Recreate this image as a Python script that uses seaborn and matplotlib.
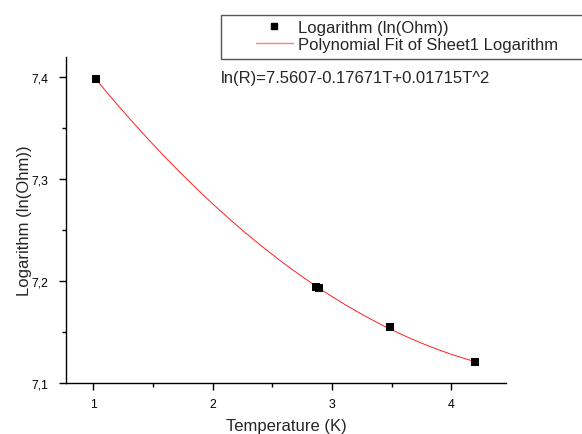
import numpy as np
import pandas as pd
import matplotlib
matplotlib.use("Agg")
import matplotlib.pyplot as plt
from matplotlib.ticker import FuncFormatter, MultipleLocator
from matplotlib.lines import Line2D
from matplotlib.patches import Rectangle
import seaborn as sns

# Data
temperature = [1.02, 2.865, 2.895, 3.485, 4.20]
log_ohm = [7.398, 7.194, 7.193, 7.155, 7.121]
fit_coeffs = [7.5607, -0.17671, 0.01715]  # c0 + c1*T + c2*T^2
equation_text = "ln(R)=7.5607-0.17671T+0.01715T^2"
legend_labels = ["Logarithm (ln(Ohm))", "Polynomial Fit of Sheet1 Logarithm"]
x_label = "Temperature (K)"
y_label = "Logarithm (ln(Ohm))"

W, H = 582, 435
sns.set_theme(style="ticks")
plt.rcParams['font.family'] = ['Liberation Sans', 'DejaVu Sans']

fig = plt.figure(figsize=(W/100, H/100), dpi=100)
ax = fig.add_axes([66/W, 1-384/H, (506-66)/W, (384-58)/H])

fit_color = "#ff2020"
df = pd.DataFrame({"T": temperature, "lnR": log_ohm})
t_fit = np.linspace(min(temperature), max(temperature), 200)
y_fit = fit_coeffs[0] + fit_coeffs[1]*t_fit + fit_coeffs[2]*t_fit**2
fit_df = pd.DataFrame({"T": t_fit, "lnR": y_fit})

sns.lineplot(data=fit_df, x="T", y="lnR", ax=ax, color=fit_color, lw=0.7, zorder=2)
sns.scatterplot(data=df, x="T", y="lnR", ax=ax, marker="s", s=26, color="black",
                edgecolor="black", linewidth=0, zorder=3)

ax.set_xlim(0.77, 4.46)
ax.set_ylim(7.1, 7.42)
ax.xaxis.set_major_locator(MultipleLocator(1))
ax.xaxis.set_minor_locator(MultipleLocator(0.5))
ax.yaxis.set_major_locator(MultipleLocator(0.1))
ax.yaxis.set_minor_locator(MultipleLocator(0.05))
ax.yaxis.set_major_formatter(FuncFormatter(lambda v, p: f"{v:.1f}".replace(".", ",")))
ax.xaxis.set_major_formatter(FuncFormatter(lambda v, p: f"{v:.0f}"))

for s in ["top", "right"]:
    ax.spines[s].set_visible(False)
for s in ["left", "bottom"]:
    ax.spines[s].set_color("black")
    ax.spines[s].set_linewidth(1.0)
ax.tick_params(which="major", direction="out", length=5, width=1, colors="black",
               labelsize=8.8)
ax.tick_params(axis="x", which="major", pad=6)
ax.tick_params(axis="y", which="major", pad=7.5)
ax.tick_params(which="minor", direction="out", length=3, width=1, colors="black")

ax.set_xlabel(x_label, fontsize=12)
ax.set_ylabel(y_label, fontsize=12)
ax.xaxis.set_label_coords(0.5, (384-431)/(384-58))
ax.xaxis.label.set_va("baseline")
ax.yaxis.set_label_coords((29-66)/(506-66), 0.5)
ax.yaxis.label.set_va("baseline")

# legend frame (extends past right edge)
fig.patches.append(Rectangle((221/W, 1-59.5/H), (W+10-221)/W, (59.5-16)/H,
                             transform=fig.transFigure, fill=False,
                             edgecolor="#555555", lw=1.0, clip_on=False))
handles = [
    Line2D([], [], marker="s", color="black", linestyle="none", markersize=5),
    Line2D([], [], color="#ff8080", lw=1.0),
]
leg = fig.legend(handles, legend_labels, loc="center left",
                 bbox_to_anchor=(255.7/W, 1-37/H), fontsize=12,
                 frameon=False, borderpad=0, handlelength=2.22, handletextpad=0.34,
                 labelspacing=0.12, borderaxespad=0)

fig.text(221/W, 1-82.7/H, equation_text, fontsize=12, va="baseline", ha="left")

fig.savefig("out.png", dpi=100)
